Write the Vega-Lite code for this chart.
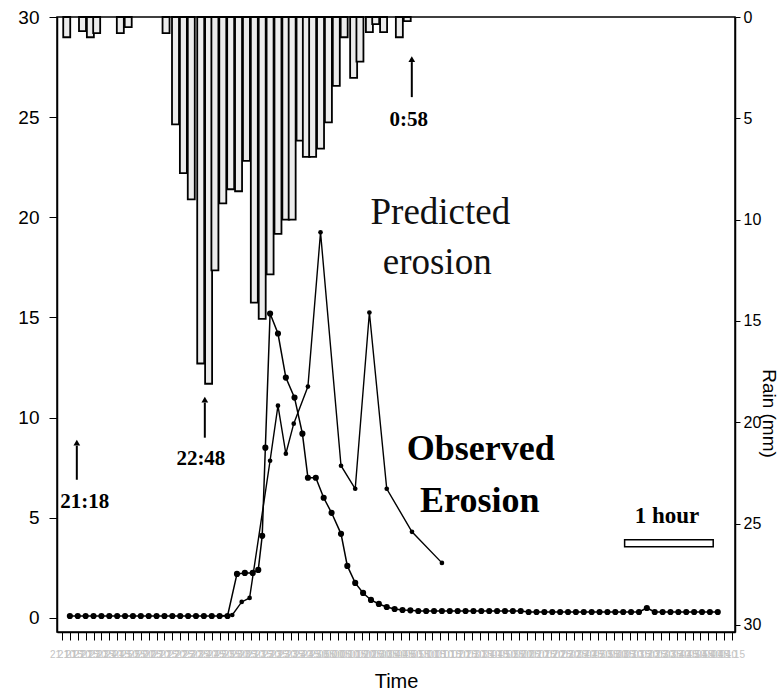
{
  "$schema": "https://vega.github.io/schema/vega-lite/v6.json",
  "width": 678,
  "height": 615,
  "autosize": {"type": "none"},
  "padding": {"left": 57, "top": 17, "right": 43, "bottom": 64},
  "background": "white",
  "config": {"font": "Liberation Sans", "view": {"stroke": "black", "strokeWidth": 1.5}},
  "datasets": {
    "rain": [
      {"t": 13, "rain": 1.0}, {"t": 23, "rain": 0.7}, {"t": 28, "rain": 1.0}, {"t": 32, "rain": 0.8},
      {"t": 47, "rain": 0.8}, {"t": 52, "rain": 0.5}, {"t": 76, "rain": 0.8}, {"t": 82, "rain": 5.3},
      {"t": 87, "rain": 7.7}, {"t": 92, "rain": 9.0}, {"t": 98, "rain": 17.1}, {"t": 103, "rain": 18.1},
      {"t": 107, "rain": 12.5}, {"t": 112, "rain": 9.2}, {"t": 117, "rain": 8.5}, {"t": 122, "rain": 8.6},
      {"t": 127, "rain": 7.1}, {"t": 132, "rain": 14.1}, {"t": 137, "rain": 14.9}, {"t": 142, "rain": 12.7},
      {"t": 147, "rain": 10.7}, {"t": 152, "rain": 10.0}, {"t": 156, "rain": 10.0}, {"t": 161, "rain": 6.1},
      {"t": 165, "rain": 6.9}, {"t": 169, "rain": 6.9}, {"t": 174, "rain": 6.5}, {"t": 179, "rain": 5.2},
      {"t": 184, "rain": 3.4}, {"t": 189, "rain": 1.0}, {"t": 195, "rain": 3.0}, {"t": 199, "rain": 2.2},
      {"t": 205, "rain": 0.75}, {"t": 209, "rain": 0.35}, {"t": 214, "rain": 0.75}, {"t": 224, "rain": 1.0},
      {"t": 229, "rain": 0.2}
    ],
    "obs": [
      {"t": 15, "v": 0.1}, {"t": 20, "v": 0.1}, {"t": 25, "v": 0.1}, {"t": 30, "v": 0.1}, {"t": 35, "v": 0.1},
      {"t": 40, "v": 0.1}, {"t": 45, "v": 0.1}, {"t": 50, "v": 0.1}, {"t": 55, "v": 0.1}, {"t": 60, "v": 0.1},
      {"t": 65, "v": 0.1}, {"t": 70, "v": 0.1}, {"t": 75, "v": 0.1}, {"t": 80, "v": 0.1}, {"t": 85, "v": 0.1},
      {"t": 90, "v": 0.1}, {"t": 95, "v": 0.1}, {"t": 100, "v": 0.1}, {"t": 105, "v": 0.1}, {"t": 110, "v": 0.1},
      {"t": 115, "v": 0.1}, {"t": 121, "v": 2.2}, {"t": 126, "v": 2.25}, {"t": 131, "v": 2.25}, {"t": 134.5, "v": 2.4},
      {"t": 137, "v": 4.1}, {"t": 139, "v": 8.5}, {"t": 142, "v": 15.2}, {"t": 147, "v": 14.2}, {"t": 152, "v": 12.0},
      {"t": 157.5, "v": 11.0}, {"t": 162.5, "v": 9.2}, {"t": 166, "v": 7.0}, {"t": 171, "v": 7.0}, {"t": 176, "v": 6.0},
      {"t": 181, "v": 5.25}, {"t": 187, "v": 4.2}, {"t": 191, "v": 2.6}, {"t": 196, "v": 1.75}, {"t": 201, "v": 1.25},
      {"t": 206, "v": 0.9}, {"t": 211, "v": 0.7}, {"t": 216, "v": 0.55}, {"t": 221, "v": 0.45}, {"t": 226, "v": 0.4},
      {"t": 231, "v": 0.38}, {"t": 236, "v": 0.35}, {"t": 241, "v": 0.35}, {"t": 246, "v": 0.35}, {"t": 251, "v": 0.35},
      {"t": 256, "v": 0.35}, {"t": 261, "v": 0.35}, {"t": 266, "v": 0.35}, {"t": 271, "v": 0.35}, {"t": 276, "v": 0.35},
      {"t": 281, "v": 0.35}, {"t": 286, "v": 0.35}, {"t": 291, "v": 0.35}, {"t": 296, "v": 0.35}, {"t": 301, "v": 0.35},
      {"t": 306, "v": 0.3}, {"t": 311, "v": 0.3}, {"t": 316, "v": 0.3}, {"t": 321, "v": 0.3}, {"t": 326, "v": 0.3},
      {"t": 331, "v": 0.3}, {"t": 336, "v": 0.3}, {"t": 341, "v": 0.3}, {"t": 346, "v": 0.3}, {"t": 351, "v": 0.3},
      {"t": 356, "v": 0.3}, {"t": 361, "v": 0.3}, {"t": 366, "v": 0.3}, {"t": 371, "v": 0.3}, {"t": 376, "v": 0.3},
      {"t": 381, "v": 0.5}, {"t": 386, "v": 0.3}, {"t": 391, "v": 0.3}, {"t": 396, "v": 0.3}, {"t": 401, "v": 0.3},
      {"t": 406, "v": 0.3}, {"t": 411, "v": 0.3}, {"t": 416, "v": 0.3}, {"t": 421, "v": 0.3}, {"t": 426, "v": 0.3}
    ],
    "pred": [
      {"t": 110, "v": 0.1}, {"t": 118, "v": 0.15}, {"t": 124, "v": 0.8}, {"t": 129, "v": 1.0},
      {"t": 142, "v": 7.85}, {"t": 147, "v": 10.6}, {"t": 152, "v": 8.2}, {"t": 157, "v": 9.7},
      {"t": 166, "v": 11.55}, {"t": 174, "v": 19.25}, {"t": 187, "v": 7.6}, {"t": 196, "v": 6.45},
      {"t": 205, "v": 15.25}, {"t": 216, "v": 6.45}, {"t": 232, "v": 4.3}, {"t": 251, "v": 2.75}
    ],
    "arrows": [
      {"t": 19.4, "v": 6.9, "v2": 8.6, "tip": 8.75, "label": "21:18", "lt": 24.4, "lv": 5.5},
      {"t": 100.6, "v": 9.0, "v2": 10.75, "tip": 10.9, "label": "22:48", "lt": 98.1, "lv": 7.65},
      {"t": 231.9, "v": 26.0, "v2": 27.75, "tip": 27.9, "label": "0:58", "lt": 230, "lv": 24.55}
    ],
    "labels": [
      {"t": 250, "v": 19.65, "text": "Predicted", "group": "pred"},
      {"t": 248, "v": 17.15, "text": "erosion", "group": "pred"},
      {"t": 275.6, "v": 7.9, "text": "Observed", "group": "obs"},
      {"t": 275, "v": 5.3, "text": "Erosion", "group": "obs"},
      {"t": 393.75, "v": 4.75, "text": "1 hour", "group": "scale"}
    ],
    "scalebar": [
      {"t": 366.9, "t2": 423.1, "v": 3.55, "v2": 3.9}
    ]
  },
  "layer": [
    {
      "data": {"name": "rain"},
      "mark": {"type": "bar", "size": 7, "fill": "#ececec", "stroke": "black", "strokeWidth": 1.8},
      "encoding": {
        "x": {
          "field": "t", "type": "quantitative",
          "scale": {"domain": [10, 433.75], "nice": false, "zero": false},
          "axis": {
            "orient": "bottom", "title": "Time", "titleFontSize": 20, "titleFontWeight": "normal", "titleColor": "black",
            "titlePadding": 12, "tickCount": 85, "tickSize": 8, "tickColor": "black", "domainColor": "black", "domainWidth": 1.5,
            "labelExpr": "format(floor((1260 + datum.value) / 60) % 24, '02d') + ':' + format((1260 + datum.value) % 60, '02d')",
            "labelFontSize": 10, "labelColor": "#c4c4c4", "labelOverlap": false, "labelPadding": 9, "labelBound": false,
            "labelFlush": false, "grid": false
          }
        },
        "y": {
          "field": "rain", "type": "quantitative",
          "scale": {"domain": [0, 30.35], "reverse": true, "nice": false},
          "axis": {
            "orient": "right", "values": [0, 5, 10, 15, 20, 25, 30], "title": "Rain (mm)", "titleAngle": 90,
            "titleFontSize": 19, "titleFontWeight": "normal", "titleColor": "black", "titleX": 33, "titleY": 396,
            "titleAlign": "center", "titleBaseline": "middle", "labelFontSize": 16, "labelColor": "black",
            "tickSize": 5, "tickColor": "black", "labelPadding": 3, "domainColor": "black", "domainWidth": 1.5, "grid": false
          }
        }
      }
    },
    {
      "encoding": {
        "x": {"field": "t", "type": "quantitative", "scale": {"domain": [10, 433.75], "nice": false, "zero": false}},
        "y": {
          "field": "v", "type": "quantitative",
          "scale": {"domain": [-0.7, 30], "nice": false, "zero": false},
          "axis": {
            "orient": "left", "values": [0, 5, 10, 15, 20, 25, 30], "title": null, "labelFontSize": 19,
            "labelColor": "black", "tickSize": 8, "tickColor": "black", "labelPadding": 10,
            "domainColor": "black", "domainWidth": 1.5, "grid": false
          }
        }
      },
      "layer": [
        {"data": {"name": "obs"}, "mark": {"type": "line", "color": "black", "strokeWidth": 1.5}},
        {"data": {"name": "obs"}, "mark": {"type": "circle", "color": "black", "opacity": 1, "size": 38}},
        {"data": {"name": "pred"}, "mark": {"type": "line", "color": "black", "strokeWidth": 1.4}},
        {"data": {"name": "pred"}, "mark": {"type": "circle", "color": "black", "opacity": 1, "size": 22}},
        {
          "data": {"name": "arrows"},
          "mark": {"type": "rule", "color": "black", "strokeWidth": 2},
          "encoding": {"y2": {"field": "v2"}}
        },
        {
          "data": {"name": "arrows"},
          "mark": {"type": "point", "shape": "triangle-up", "filled": true, "color": "black", "opacity": 1, "size": 45},
          "encoding": {"y": {"field": "tip", "type": "quantitative"}}
        },
        {
          "data": {"name": "arrows"},
          "mark": {"type": "text", "font": "Liberation Serif", "fontWeight": "bold", "fontSize": 21, "align": "center", "baseline": "alphabetic", "color": "black"},
          "encoding": {
            "x": {"field": "lt", "type": "quantitative"},
            "y": {"field": "lv", "type": "quantitative"},
            "text": {"field": "label"}
          }
        },
        {
          "data": {"name": "labels"},
          "transform": [{"filter": "datum.group == 'pred'"}],
          "mark": {"type": "text", "font": "Liberation Serif", "fontSize": 37, "align": "center", "baseline": "alphabetic", "color": "#111"},
          "encoding": {"text": {"field": "text"}}
        },
        {
          "data": {"name": "labels"},
          "transform": [{"filter": "datum.group == 'obs'"}],
          "mark": {"type": "text", "font": "Liberation Serif", "fontWeight": "bold", "fontSize": 36, "align": "center", "baseline": "alphabetic", "color": "black"},
          "encoding": {"text": {"field": "text"}}
        },
        {
          "data": {"name": "labels"},
          "transform": [{"filter": "datum.group == 'scale'"}],
          "mark": {"type": "text", "font": "Liberation Serif", "fontWeight": "bold", "fontSize": 23, "align": "center", "baseline": "alphabetic", "color": "black"},
          "encoding": {"text": {"field": "text"}}
        },
        {
          "data": {"name": "scalebar"},
          "mark": {"type": "rect", "fill": "white", "stroke": "black", "strokeWidth": 1.5},
          "encoding": {"x2": {"field": "t2"}, "y2": {"field": "v2"}}
        }
      ]
    }
  ],
  "resolve": {"scale": {"y": "independent"}}
}
